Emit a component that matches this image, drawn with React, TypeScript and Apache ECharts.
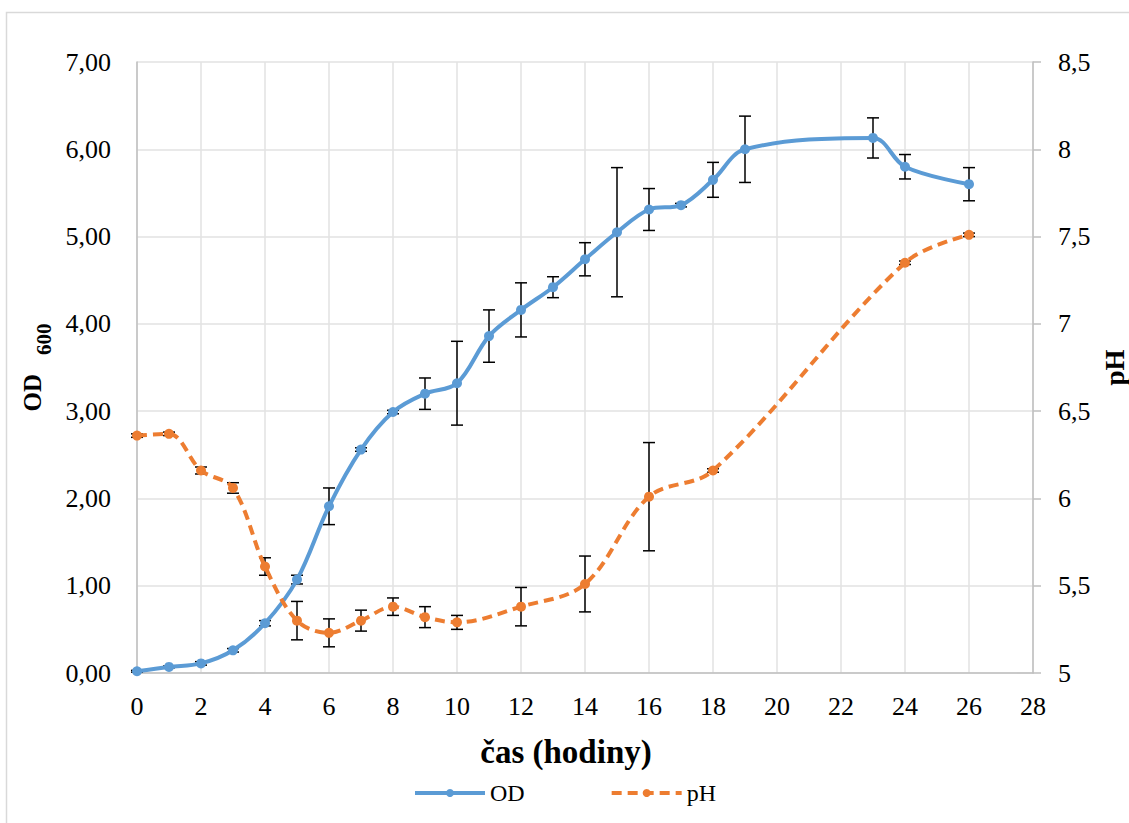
import React, { useEffect, useRef } from "react";
import * as echarts from "echarts";

const odHours = [0, 1, 2, 3, 4, 5, 6, 7, 8, 9, 10, 11, 12, 13, 14, 15, 16, 17, 18, 19, 23, 24, 26];
const odValues = [0.02, 0.07, 0.11, 0.26, 0.57, 1.07, 1.91, 2.56, 2.99, 3.2, 3.32, 3.86, 4.16, 4.42, 4.74, 5.05, 5.31, 5.36, 5.65, 6.0, 6.13, 5.8, 5.6];
const odErrors = [0.01, 0.01, 0.02, 0.02, 0.03, 0.05, 0.21, 0.02, 0.02, 0.18, 0.48, 0.3, 0.31, 0.12, 0.19, 0.74, 0.24, 0.02, 0.2, 0.38, 0.23, 0.14, 0.19];

const phHours = [0, 1, 2, 3, 4, 5, 6, 7, 8, 9, 10, 12, 14, 16, 18, 24, 26];
const phValues = [6.36, 6.37, 6.16, 6.06, 5.61, 5.3, 5.23, 5.3, 5.38, 5.32, 5.29, 5.38, 5.51, 6.01, 6.16, 7.35, 7.51];
const phErrors = [0.01, 0.01, 0.02, 0.03, 0.05, 0.11, 0.08, 0.06, 0.05, 0.06, 0.04, 0.11, 0.16, 0.31, 0.01, 0.01, 0.01];

const xTicks = { min: 0, max: 28, interval: 2 };
const odAxis = { min: 0, max: 7, interval: 1 };
const phAxis = { min: 5, max: 8.5, interval: 0.5 };

const FONT = "'Liberation Serif', 'DejaVu Serif', serif";
const BLUE = "#5b9bd5";
const ORANGE = "#ed7d31";

function errorBarSeries(hours: number[], vals: number[], errs: number[], yAxisIndex: number) {
  const data = hours.map((h, i) => [h, vals[i] - errs[i], vals[i] + errs[i]]);
  return {
    type: "custom",
    yAxisIndex,
    z: 1,
    silent: true,
    data,
    renderItem: (params: any, api: any) => {
      const x = api.value(0);
      const lo = api.coord([x, api.value(1)]);
      const hi = api.coord([x, api.value(2)]);
      const cap = 6;
      const style = { stroke: "#000", lineWidth: 1.5 };
      return {
        type: "group",
        children: [
          { type: "line", shape: { x1: lo[0], y1: lo[1], x2: hi[0], y2: hi[1] }, style },
          { type: "line", shape: { x1: lo[0] - cap, y1: lo[1], x2: lo[0] + cap, y2: lo[1] }, style },
          { type: "line", shape: { x1: hi[0] - cap, y1: hi[1], x2: hi[0] + cap, y2: hi[1] }, style },
        ],
      };
    },
  };
}

export default function App() {
  const ref = useRef<HTMLDivElement>(null);
  useEffect(() => {
    if (!ref.current) return;
    const chart = echarts.init(ref.current, undefined, { renderer: "svg" });
    const fmt2 = (v: number) => v.toFixed(2).replace(".", ",");
    const fmtPh = (v: number) => String(v).replace(".", ",");
    chart.setOption({
      animation: false,
      backgroundColor: "#fff",
      textStyle: { fontFamily: FONT },
      graphic: [
        {
          type: "rect",
          shape: { x: 6.5, y: 12.5, width: 1140, height: 830 },
          style: { fill: "none", stroke: "#d9d9d9", lineWidth: 1.5 },
          silent: true,
        },
      ],
      grid: { left: 137, right: 96, top: 62, bottom: 150, containLabel: false, outerBoundsMode: "none" },
      legend: {
        bottom: 13,
        left: "center",
        itemWidth: 70,
        itemHeight: 10,
        itemGap: 85,
        lineStyle: { width: 4 },
        textStyle: { fontFamily: FONT, fontSize: 24, color: "#000" },
        data: ["OD", "pH"],
      },
      xAxis: {
        type: "value",
        min: xTicks.min,
        max: xTicks.max,
        interval: xTicks.interval,
        name: "čas (hodiny)",
        nameLocation: "middle",
        nameGap: 62,
        nameTextStyle: {
          fontFamily: FONT,
          fontSize: 33,
          fontWeight: "bold",
          color: "#000",
          padding: [0, 38, 0, 0],
        },
        axisLine: { lineStyle: { color: "#bfbfbf", width: 1.5 } },
        axisTick: { show: false },
        axisLabel: { fontFamily: FONT, fontSize: 26, color: "#000", margin: 20 },
        splitLine: { show: true, lineStyle: { color: "#e2e2e2", width: 1.5 } },
      },
      yAxis: [
        {
          type: "value",
          min: odAxis.min,
          max: odAxis.max,
          interval: odAxis.interval,
          name: "{b|OD}{s|600}",
          nameLocation: "middle",
          nameGap: 80,
          nameRotate: 90,
          nameTextStyle: {
            rich: {
              b: { fontFamily: FONT, fontSize: 25, fontWeight: "bold", color: "#000" },
              s: {
                fontFamily: FONT,
                fontSize: 21,
                fontWeight: "bold",
                color: "#000",
                padding: [24, 0, 0, 19],
              },
            },
          },
          axisLine: { show: true, lineStyle: { color: "#bfbfbf", width: 1.5 } },
          axisTick: { show: false },
          axisLabel: { fontFamily: FONT, fontSize: 26, color: "#000", margin: 26, formatter: fmt2 },
          splitLine: { show: true, lineStyle: { color: "#e2e2e2", width: 1.5 } },
        },
        {
          type: "value",
          position: "right",
          min: phAxis.min,
          max: phAxis.max,
          interval: phAxis.interval,
          name: "pH",
          nameLocation: "middle",
          nameGap: 62,
          nameRotate: 90,
          nameTextStyle: { fontFamily: FONT, fontSize: 27, fontWeight: "bold", color: "#000" },
          axisLine: { show: true, lineStyle: { color: "#bfbfbf", width: 1.5 } },
          axisTick: { show: true, length: 8, lineStyle: { color: "#bfbfbf", width: 1.5 } },
          axisLabel: { fontFamily: FONT, fontSize: 26, color: "#000", margin: 25, formatter: fmtPh },
          splitLine: { show: false },
        },
      ],
      series: [
        errorBarSeries(odHours, odValues, odErrors, 0),
        errorBarSeries(phHours, phValues, phErrors, 1),
        {
          name: "OD",
          type: "line",
          yAxisIndex: 0,
          z: 3,
          smooth: 0.35,
          symbol: "circle",
          symbolSize: 10,
          data: odHours.map((h, i) => [h, odValues[i]]),
          lineStyle: { color: BLUE, width: 4 },
          itemStyle: { color: BLUE },
        },
        {
          name: "pH",
          type: "line",
          yAxisIndex: 1,
          z: 3,
          smooth: 0.35,
          symbol: "circle",
          symbolSize: 10,
          data: phHours.map((h, i) => [h, phValues[i]]),
          lineStyle: { color: ORANGE, width: 4, type: [10, 6] },
          itemStyle: { color: ORANGE },
        },
      ],
    });
    return () => chart.dispose();
  }, []);
  return <div ref={ref} style={{ position: "fixed", left: 0, top: 0, width: 1129, height: 823 }} />;
}
